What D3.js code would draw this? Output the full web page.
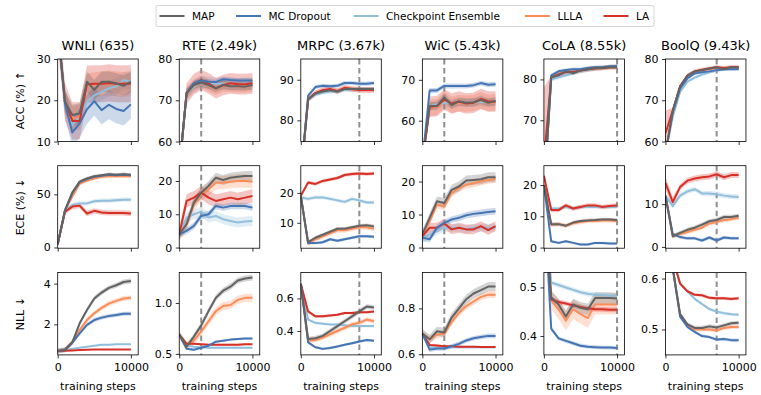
<!DOCTYPE html>
<html>
<head>
<meta charset="utf-8">
<script src="https://cdn.jsdelivr.net/npm/d3@7"></script>
<style>
  body { margin: 0; background: #fff; }
  svg { font-family: "DejaVu Sans", sans-serif; }
</style>
</head>
<body>
<svg id="chart" width="761" height="395"></svg>
<script>
// ---- data ----
const steps = [0, 1000, 2000, 3000, 4000, 5000, 6000, 7000, 8000, 9000, 10000];
const methods = ['MAP', 'MC Dropout', 'Checkpoint Ensemble', 'LLLA', 'LA'];
const colors = ['#636363', '#4575b4', '#91bfdb', '#fc8d59', '#d73027'];
const datasets = ['WNLI (635)', 'RTE (2.49k)', 'MRPC (3.67k)', 'WiC (5.43k)', 'CoLA (8.55k)', 'BoolQ (9.43k)'];
const metrics = ['ACC (%) \u2191', 'ECE (%) \u2193', 'NLL \u2193'];
const xTicks = [0, 10000];
const dashSteps = [null, 3000, 8000, 3000, 10000, 7000];

// method order in every panel: MAP, MC Dropout, Checkpoint Ensemble, LLLA, LA
const accWNLI = [
  [38, 19.6, 16.4, 16.8, 24.5, 22.5, 24.5, 24.5, 24.1, 23.5, 24.5],
  [38, 19.2, 12.2, 14.4, 17.8, 19.8, 17.6, 18.9, 17.9, 17.4, 19.0],
  [38, 19.5, 14.0, 16.0, 19.6, 21.2, 22.0, 22.9, 23.3, 24.9, 24.5],
  [38, 19.6, 15.5, 16.0, 23.5, 23.8, 24.0, 24.2, 24.0, 23.8, 24.2],
  [38, 19.6, 15.0, 15.0, 23.9, 24.0, 24.0, 24.2, 24.0, 24.0, 24.0]];
const accRTE = [
  [53, 71.8, 73.7, 74.3, 73.7, 72.9, 73.7, 73.4, 73.4, 73.3, 73.7],
  [53, 71.8, 74.1, 74.8, 74.5, 74.4, 75.1, 74.9, 74.8, 74.8, 74.8],
  [53, 71.5, 73.3, 74.5, 74.2, 74.0, 74.0, 74.0, 73.9, 74.0, 74.0],
  [53, 71.8, 73.6, 74.5, 73.6, 72.8, 73.5, 73.5, 73.3, 73.3, 73.6],
  [53, 71.6, 73.9, 74.9, 74.1, 72.9, 73.7, 74.1, 73.9, 73.9, 74.1]];
const accMRPC = [
  [66, 85.2, 86.6, 87.1, 87.4, 87.1, 87.7, 87.7, 87.7, 87.7, 87.7],
  [66, 86.1, 88.2, 88.5, 88.4, 88.5, 89.2, 89.2, 89.0, 89.0, 89.2],
  [66, 85.0, 86.3, 86.8, 87.1, 87.1, 87.5, 87.6, 87.7, 87.7, 87.7],
  [66, 85.1, 86.7, 87.3, 87.6, 87.2, 87.9, 87.7, 87.5, 87.5, 87.5],
  [66, 85.2, 86.7, 87.4, 87.7, 87.2, 88.0, 87.7, 87.5, 87.5, 87.5]];
const accWiC = [
  [50, 63.6, 63.6, 65.7, 63.8, 64.7, 64.4, 64.5, 65.1, 64.4, 64.8],
  [50, 67.4, 67.4, 68.5, 68.5, 68.5, 68.5, 68.7, 69.2, 68.8, 68.9],
  [50, 63.5, 64.0, 64.3, 64.3, 64.4, 64.4, 64.5, 64.6, 64.5, 64.5],
  [50, 63.2, 63.3, 65.2, 63.9, 64.3, 64.2, 64.3, 65.0, 64.3, 64.5],
  [50, 63.4, 63.6, 65.2, 64.2, 64.7, 64.2, 64.4, 65.3, 64.7, 64.7]];
const accCoLA = [
  [52, 80.5, 81.0, 82.0, 81.5, 82.2, 82.5, 82.8, 82.8, 83.0, 83.0],
  [52, 81.0, 82.0, 82.3, 82.5, 82.5, 82.8, 83.0, 83.0, 83.2, 83.3],
  [52, 80.0, 80.5, 81.0, 81.5, 82.0, 82.3, 82.5, 82.8, 83.0, 83.0],
  [52, 80.5, 81.2, 81.8, 81.8, 82.2, 82.5, 82.7, 82.8, 83.0, 83.0],
  [60, 80.5, 81.2, 81.8, 81.8, 82.2, 82.5, 82.7, 82.8, 83.0, 83.0]];
const accBoolQ = [
  [57, 67.5, 73.3, 76.0, 77.0, 77.3, 77.7, 78.0, 77.5, 78.0, 78.0],
  [57, 67.0, 72.8, 75.3, 76.5, 76.8, 77.0, 77.3, 77.5, 77.5, 77.5],
  [57, 66.0, 72.0, 74.5, 75.5, 76.2, 76.8, 77.2, 77.5, 77.6, 77.8],
  [57, 67.3, 73.3, 75.9, 76.9, 77.3, 77.6, 77.9, 77.7, 78.0, 78.0],
  [62, 67.5, 73.4, 76.0, 77.0, 77.4, 77.7, 78.0, 77.8, 78.0, 78.0]];

const eceWNLI = [
  [3, 35, 52, 62, 65, 67, 68, 69, 68.5, 69, 68.5],
  [3, 35, 51, 61.5, 64.5, 66.5, 67.5, 68.5, 68, 68.5, 68],
  [3, 35, 40, 41.5, 41.5, 43.5, 44, 44, 44.5, 45, 45],
  [3, 35, 48, 60, 63, 65, 66.5, 67, 67, 67, 67],
  [3, 33.6, 38.5, 39.4, 32, 34.5, 33, 32.5, 32.5, 32.5, 32]];
const eceRTE = [
  [4, 7, 13.5, 16.5, 18.5, 21, 20.3, 21, 21.3, 21.5, 21.5],
  [4, 5, 6.5, 9.5, 10, 12.5, 12, 12.5, 12.5, 12.5, 12],
  [4, 9, 10, 10.8, 9, 9.5, 8.5, 8, 7.5, 7.8, 8],
  [4, 7, 13, 16, 17.5, 19.5, 19.5, 19.8, 20, 20, 19.8],
  [4, 14, 15, 16.5, 15, 14, 14.5, 15, 14.5, 15, 15.5]];
const eceMRPC = [
  [19, 3.5, 5, 6, 7, 8, 8, 8.5, 9, 9.2, 8.8],
  [19, 3.2, 3.2, 3.5, 4.5, 4, 4.5, 5, 5.5, 5.5, 5.3],
  [18.5, 18, 18.5, 18.5, 18, 17.5, 17, 18, 17.5, 16.8, 16.8],
  [19, 3, 4.5, 5.5, 6.5, 7.5, 7.5, 8, 8.5, 8.5, 8],
  [19, 23.5, 23, 24, 24.5, 25, 26, 26.3, 26.5, 26.3, 26.5]];
const eceWiC = [
  [4, 9, 14, 13.5, 17.5, 18.5, 20.3, 20.5, 20.7, 21.3, 21.3],
  [3, 2.5, 6, 7.5, 8.5, 9, 9.8, 10.2, 10.5, 10.8, 11],
  [2.5, 4, 5, 6, 6, 6, 5.5, 6, 6, 6, 6],
  [4, 8, 13, 12.5, 16.5, 18, 19, 19.5, 20, 20.5, 20.8],
  [3.5, 6, 6, 7.3, 5.5, 6, 5.5, 5.5, 6.5, 5.3, 6.5]];
const eceCoLA = [
  [20, 7.5, 7.5, 7, 8, 8.5, 8.7, 8.8, 9, 9, 8.8],
  [20, 2, 1.5, 2, 1.5, 1, 1, 1.5, 1.5, 1.3, 1.3],
  [20, 12.5, 12.5, 13, 12.5, 13, 13, 13, 13, 13, 13],
  [20, 7.3, 7.5, 7, 7.8, 8.2, 8.5, 8.5, 8.7, 8.7, 8.5],
  [23, 12, 12, 13.5, 12.5, 13, 13.5, 13.5, 13, 13.3, 13.5]];
const eceBoolQ = [
  [12, 2.5, 3.3, 4, 4.5, 5.2, 6, 6.3, 7, 7, 7.3],
  [12, 3, 2.3, 2, 2, 1.5, 2.2, 1.5, 2.2, 2, 2],
  [12, 9.5, 12, 13, 13.5, 12.5, 12.5, 12.3, 12, 11.8, 11.7],
  [12, 2.5, 3, 3.5, 4, 4.5, 5.5, 5.8, 6.3, 6.5, 6.8],
  [15, 10.5, 14, 15.5, 16, 16.3, 16.5, 17, 16.3, 16.8, 16.8]];

const nllWNLI = [
  [0.69, 0.75, 1.12, 2.05, 2.7, 3.27, 3.56, 3.79, 3.92, 4.08, 4.13],
  [0.69, 0.75, 1.1, 1.56, 1.97, 2.21, 2.33, 2.41, 2.46, 2.52, 2.52],
  [0.69, 0.72, 0.8, 0.85, 0.9, 0.95, 1.0, 1.0, 1.02, 1.02, 1.02],
  [0.69, 0.75, 1.12, 1.72, 2.21, 2.54, 2.81, 3.02, 3.15, 3.27, 3.3],
  [0.69, 0.7, 0.72, 0.74, 0.75, 0.76, 0.77, 0.77, 0.77, 0.77, 0.77]];
const nllRTE = [
  [0.69, 0.57, 0.67, 0.78, 0.92, 1.05, 1.12, 1.16, 1.22, 1.24, 1.25],
  [0.69, 0.55, 0.54, 0.56, 0.58, 0.62, 0.63, 0.64, 0.645, 0.65, 0.65],
  [0.69, 0.58, 0.57, 0.565, 0.56, 0.56, 0.56, 0.56, 0.56, 0.56, 0.56],
  [0.69, 0.58, 0.63, 0.72, 0.82, 0.92, 0.97, 0.98, 1.03, 1.05, 1.05],
  [0.69, 0.6, 0.6, 0.595, 0.59, 0.59, 0.59, 0.59, 0.59, 0.595, 0.595]];
const nllMRPC = [
  [0.69, 0.35, 0.355, 0.37, 0.4, 0.43, 0.46, 0.49, 0.52, 0.55, 0.545],
  [0.69, 0.33, 0.3, 0.29, 0.295, 0.305, 0.315, 0.325, 0.335, 0.345, 0.34],
  [0.69, 0.47, 0.45, 0.445, 0.44, 0.44, 0.435, 0.43, 0.43, 0.43, 0.43],
  [0.69, 0.34, 0.345, 0.36, 0.38, 0.4, 0.42, 0.44, 0.45, 0.47, 0.46],
  [0.69, 0.52, 0.49, 0.49, 0.495, 0.5, 0.51, 0.51, 0.515, 0.515, 0.52]];
const nllWiC = [
  [0.69, 0.665, 0.7, 0.695, 0.76, 0.8, 0.84, 0.865, 0.88, 0.895, 0.895],
  [0.69, 0.62, 0.625, 0.625, 0.635, 0.645, 0.66, 0.67, 0.675, 0.68, 0.68],
  [0.69, 0.63, 0.628, 0.628, 0.63, 0.63, 0.63, 0.63, 0.63, 0.63, 0.63],
  [0.69, 0.665, 0.685, 0.69, 0.74, 0.78, 0.81, 0.83, 0.85, 0.86, 0.86],
  [0.69, 0.64, 0.638, 0.635, 0.635, 0.633, 0.633, 0.633, 0.632, 0.632, 0.632]];
const nllCoLA = [
  [0.69, 0.48, 0.465, 0.44, 0.465, 0.458, 0.455, 0.478, 0.478, 0.478, 0.477],
  [0.69, 0.415, 0.395, 0.39, 0.385, 0.38, 0.378, 0.377, 0.376, 0.376, 0.375],
  [0.69, 0.51, 0.505, 0.5, 0.495, 0.49, 0.487, 0.485, 0.484, 0.483, 0.483],
  [0.69, 0.475, 0.455, 0.432, 0.455, 0.445, 0.437, 0.465, 0.465, 0.465, 0.465],
  [0.69, 0.475, 0.47, 0.467, 0.463, 0.46, 0.457, 0.455, 0.455, 0.454, 0.454]];
const nllBoolQ = [
  [0.69, 0.62, 0.53, 0.51, 0.503, 0.503, 0.506, 0.504, 0.508, 0.512, 0.513],
  [0.69, 0.62, 0.525, 0.505, 0.495, 0.487, 0.485, 0.48, 0.481, 0.479, 0.479],
  [0.69, 0.64, 0.59, 0.575, 0.56, 0.55, 0.54, 0.535, 0.532, 0.53, 0.529],
  [0.69, 0.62, 0.53, 0.508, 0.5, 0.5, 0.5, 0.498, 0.503, 0.505, 0.505],
  [0.69, 0.64, 0.59, 0.575, 0.568, 0.567, 0.562, 0.561, 0.561, 0.56, 0.561]];

// band half widths (one per method; an array where the spread changes a lot)
const accSpread = [
  [2.5, 3.5, 2, 3, 4.5],
  [1, 0.6, 1.5, 1.5, 2.5],
  [0.4, 0.5, 0.5, 0.6, 0.7],
  [1, 0.6, 1, 2, 2.5],
  [0.4, 0.4, 0.5, 0.5, [18, 0.6, 0.6, 0.6, 0.6, 0.6, 0.6, 0.6, 0.6, 0.6, 0.6]],
  [0.3, 0.3, 0.4, 0.4, [5.5, 0.6, 0.5, 0.5, 0.5, 0.5, 0.5, 0.5, 0.5, 0.5, 0.5]]];
const eceSpread = [
  [1.5, 1.5, 2, 1.5, 2.5],
  [1.5, 1, 1.5, 2, 2],
  [0.6, 0.5, 0.6, 0.8, 0.6],
  [1.5, 1, 1.2, 1.2, 1.5],
  [0.5, 0.4, 0.6, 0.7, 0.7],
  [0.5, 0.4, 0.6, 0.5, [1.5, 1.2, 0.7, 0.7, 0.7, 0.7, 0.7, 0.7, 0.7, 0.7, 0.7]]];
const nllSpread = [
  [0.12, 0.1, 0.03, 0.12, 0.02],
  [0.03, 0.01, 0.01, 0.04, 0.01],
  [0.015, 0.008, 0.008, 0.015, 0.008],
  [0.02, 0.01, 0.005, 0.015, 0.004],
  [0.012, 0.004, 0.005, 0.02, 0.005],
  [0.004, 0.003, 0.003, 0.004, 0.003]];

const yDomains = [
  [[10, 30], [60, 80], [74.8, 95.1], [54.9, 75.1], [64.8, 85], [60, 80]],
  [[-0.7, 77], [-0.2, 24.6], [1.5, 29.1], [-0.2, 24.8], [-0.2, 26.2], [-0.3, 19]],
  [[0.5, 4.55], [0.49, 1.3], [0.253, 0.76], [0.597, 0.957], [0.361, 0.531], [0.45, 0.612]]];
const yTickLabels = [
  [['10', '20', '30'], ['60', '70', '80'], ['80', '90'], ['60', '70'], ['70', '80'], ['60', '70', '80']],
  [['0', '50'], ['0', '10', '20'], ['10', '20'], ['0', '10', '20'], ['0', '10', '20'], ['0', '10']],
  [['2', '4'], ['0.5', '1.0'], ['0.4', '0.6'], ['0.6', '0.8'], ['0.4', '0.5'], ['0.5', '0.6']]];

const panelData = [
  [accWNLI, accRTE, accMRPC, accWiC, accCoLA, accBoolQ],
  [eceWNLI, eceRTE, eceMRPC, eceWiC, eceCoLA, eceBoolQ],
  [nllWNLI, nllRTE, nllMRPC, nllWiC, nllCoLA, nllBoolQ]];
const panelSpread = [accSpread, eceSpread, nllSpread];

// ---- layout ----
const colX0 = 57.7, colStep = 121.55, panelW = 80.5;
const rowY0 = 59, rowStep = 106.7, panelH = 82.5;
const drawOrder = [2, 3, 4, 1, 0];

const svg = d3.select('#chart');
const defs = svg.append('defs');

function styleAxis(g) {
  g.attr('font-family', null).attr('font-size', null);
  g.select('.domain').remove();
  g.selectAll('.tick line').attr('stroke', '#000').attr('stroke-width', 0.8);
  g.selectAll('.tick text').attr('fill', '#000').style('font-size', '11px');
}

metrics.forEach(function(metric, r) {
  const top = rowY0 + r * rowStep;
  svg.append('text')
    .attr('transform', 'translate(20,' + (top + panelH / 2) + ') rotate(-90)')
    .attr('text-anchor', 'middle')
    .attr('dy', '0.35em')
    .style('font-size', '11px')
    .text(metric);

  datasets.forEach(function(name, c) {
    const left = colX0 + c * colStep;
    const g = svg.append('g').attr('transform', 'translate(' + left + ',' + top + ')');
    const x = d3.scaleLinear().domain([0, 11000]).range([0, panelW]);
    const y = d3.scaleLinear().domain(yDomains[r][c]).range([panelH, 0]);
    const clipId = 'clip-' + r + '-' + c;
    defs.append('clipPath').attr('id', clipId)
      .append('rect').attr('width', panelW).attr('height', panelH);

    const plot = g.append('g').attr('clip-path', 'url(#' + clipId + ')');
    const vals = panelData[r][c];
    const spreads = panelSpread[r][c];

    const area = d3.area()
      .x(function(d) { return x(d.s); })
      .y0(function(d) { return y(d.v - d.sd); })
      .y1(function(d) { return y(d.v + d.sd); });
    const line = d3.line()
      .x(function(d) { return x(d.s); })
      .y(function(d) { return y(d.v); });

    function seriesPoints(m) {
      const sp = spreads[m];
      return steps.map(function(s, i) {
        return { s: s, v: vals[m][i], sd: Array.isArray(sp) ? sp[i] : sp };
      });
    }

    drawOrder.forEach(function(m) {
      plot.append('path')
        .attr('d', area(seriesPoints(m)))
        .attr('fill', colors[m])
        .attr('fill-opacity', 0.28)
        .attr('stroke', 'none');
    });

    if (dashSteps[c] !== null) {
      plot.append('line')
        .attr('x1', x(dashSteps[c])).attr('x2', x(dashSteps[c]))
        .attr('y1', 0).attr('y2', panelH)
        .attr('stroke', '#8f8f8f')
        .attr('stroke-width', 2)
        .attr('stroke-dasharray', '5.5,3.5');
    }

    drawOrder.forEach(function(m) {
      plot.append('path')
        .attr('d', line(seriesPoints(m)))
        .attr('fill', 'none')
        .attr('stroke', colors[m])
        .attr('stroke-width', 2)
        .attr('stroke-linejoin', 'round');
    });

    const labels = yTickLabels[r][c];
    const yAxis = g.append('g')
      .call(d3.axisLeft(y)
        .tickValues(labels.map(Number))
        .tickFormat(function(d, i) { return labels[i]; })
        .tickSize(3.5).tickPadding(3.5));
    styleAxis(yAxis);

    const xAxis = g.append('g')
      .attr('transform', 'translate(0,' + panelH + ')')
      .call(d3.axisBottom(x)
        .tickValues(xTicks)
        .tickFormat(r === 2 ? d3.format('d') : function() { return ''; })
        .tickSize(3.5).tickPadding(5));
    styleAxis(xAxis);

    g.append('rect')
      .attr('width', panelW).attr('height', panelH)
      .attr('fill', 'none').attr('stroke', '#000').attr('stroke-width', 0.8);

    if (r === 0) {
      g.append('text')
        .attr('x', panelW / 2).attr('y', -9)
        .attr('text-anchor', 'middle')
        .style('font-size', '13px')
        .text(name);
    }
    if (r === 2) {
      g.append('text')
        .attr('x', panelW / 2).attr('y', panelH + 35)
        .attr('text-anchor', 'middle')
        .style('font-size', '11px')
        .text('training steps');
    }
  });
});

// ---- legend ----
const legendHandleX = [159.5, 236, 353.5, 525, 603.5];
const legend = svg.append('g');
legend.append('rect')
  .attr('x', 156).attr('y', 5.5).attr('width', 498).attr('height', 21).attr('rx', 2)
  .attr('fill', '#fff').attr('stroke', '#cccccc').attr('stroke-width', 0.8);
methods.forEach(function(m, i) {
  const lx = legendHandleX[i];
  legend.append('line')
    .attr('x1', lx).attr('x2', lx + 25)
    .attr('y1', 16).attr('y2', 16)
    .attr('stroke', colors[i]).attr('stroke-width', 2);
  legend.append('text')
    .attr('x', lx + 32.5).attr('y', 16).attr('dy', '0.35em')
    .style('font-size', '10.5px')
    .text(m);
});
</script>
</body>
</html>
